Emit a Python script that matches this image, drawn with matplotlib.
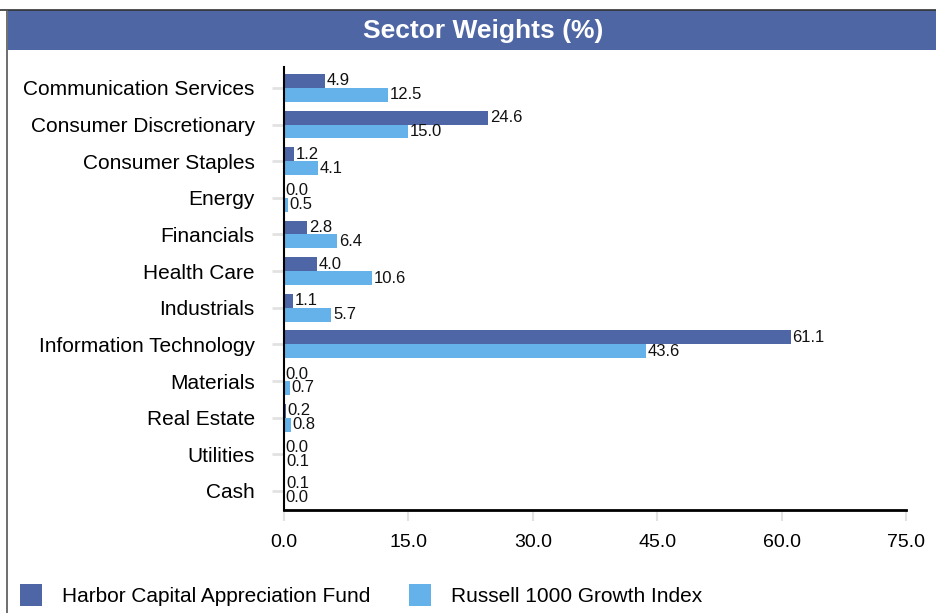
import matplotlib.pyplot as plt
from matplotlib.patches import Rectangle
from matplotlib.lines import Line2D

plt.rcParams['font.family'] = ['Liberation Sans', 'DejaVu Sans']

# Data
sectors = ["Communication Services", "Consumer Discretionary", "Consumer Staples",
           "Energy", "Financials", "Health Care", "Industrials",
           "Information Technology", "Materials", "Real Estate", "Utilities", "Cash"]
fund = [4.9, 24.6, 1.2, 0.0, 2.8, 4.0, 1.1, 61.1, 0.0, 0.2, 0.0, 0.1]
index = [12.5, 15.0, 4.1, 0.5, 6.4, 10.6, 5.7, 43.6, 0.7, 0.8, 0.1, 0.0]
xticks = [0, 15, 30, 45, 60, 75]
series_names = ["Harbor Capital Appreciation Fund", "Russell 1000 Growth Index"]

DARK = "#4e66a6"
LIGHT = "#65b1e9"

W, H = 936, 613
fig = plt.figure(figsize=(W / 100, H / 100), dpi=100)

# outer frame lines and title band
fig.add_artist(Line2D([0, 1], [1 - 9.5 / H, 1 - 9.5 / H], color="#333333", lw=1.2))
fig.add_artist(Line2D([7.5 / W, 7.5 / W], [0, 1 - 9.5 / H], color="#555555", lw=1.2))
fig.add_artist(Rectangle((8 / W, 1 - 50 / H), 1 - 8 / W, 40 / H,
                         transform=fig.transFigure, color="#4f66a5", lw=0))
fig.text(483 / W, 1 - 31 / H, "Sector Weights (%)", color="white",
         fontsize=19, fontweight="bold", ha="center", va="center")

ax = fig.add_axes([284 / W, (H - 510) / H, 622 / W, (510 - 67) / H])

pos = list(range(len(sectors)))
h = 0.38
b1 = ax.barh([p - h / 2 for p in pos], fund, height=h, color=DARK, label=series_names[0])
b2 = ax.barh([p + h / 2 for p in pos], index, height=h, color=LIGHT, label=series_names[1])

for bars, vals in ((b1, fund), (b2, index)):
    for bar, v in zip(bars, vals):
        ax.text(v + 0.2, bar.get_y() + bar.get_height() / 2, f"{v:.1f}",
                fontsize=12, va="center", ha="left", color="#111111")

ax.set_xlim(0, 75)
ax.set_ylim(len(sectors) - 1 + 0.52, -0.57)
ax.set_xticks(xticks)
ax.set_xticklabels([f"{t:.1f}" for t in xticks], fontsize=14)
ax.set_yticks(pos)
ax.set_yticklabels(sectors, fontsize=15)

ax.tick_params(axis="y", length=9, width=2, color="#e2e2e2", pad=12)
ax.tick_params(axis="x", length=8, width=1.5, color="#e2e2e2", pad=9)
for s in ("top", "right"):
    ax.spines[s].set_visible(False)
ax.spines["bottom"].set_linewidth(2)
ax.spines["left"].set_linewidth(1.5)

fig.legend(handles=[b1, b2], loc="lower left", bbox_to_anchor=(20 / W, 7 / H),
           ncol=2, frameon=False, fontsize=15, handlelength=1.06, handleheight=1.2,
           handletextpad=0.96, columnspacing=1.83, borderpad=0, borderaxespad=0)

fig.savefig("out.png", dpi=100)
